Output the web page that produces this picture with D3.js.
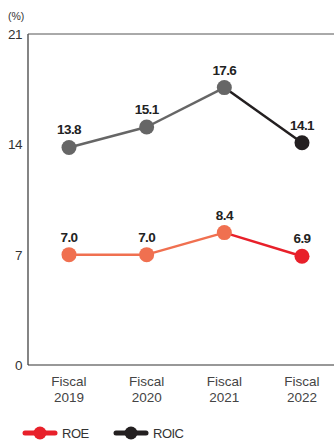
<!DOCTYPE html>
<html>
<head>
<meta charset="utf-8">
<script src="https://cdn.jsdelivr.net/npm/d3@7"></script>
<style>
  html, body { margin: 0; padding: 0; background: #fff; }
  svg { display: block; font-family: "Liberation Sans", Arial, sans-serif; }
</style>
</head>
<body>
<svg id="chart" width="334" height="441"></svg>
<script>
// Fiscal years and ratios (%)
const years = ["2019", "2020", "2021", "2022"];
const roe = [7.0, 7.0, 8.4, 6.9];
const roic = [13.8, 15.1, 17.6, 14.1];
const yTicks = [0, 7, 14, 21];

const svg = d3.select("#chart");
const plotLeft = 28, plotRight = 334, plotTop = 34, plotBottom = 365;

const x = d3.scalePoint().domain(years).range([69, 302]);
const y = d3.scaleLinear().domain([0, 21]).range([plotBottom, plotTop]);

// frame: left axis, top and bottom rules
svg.append("line").attr("x1", plotLeft).attr("x2", plotLeft).attr("y1", plotTop).attr("y2", plotBottom)
  .attr("stroke", "#333").attr("stroke-width", 1.2);
svg.append("line").attr("x1", plotLeft).attr("x2", plotRight).attr("y1", plotTop).attr("y2", plotTop)
  .attr("stroke", "#555").attr("stroke-width", 1);
svg.append("line").attr("x1", plotLeft).attr("x2", plotRight).attr("y1", plotBottom).attr("y2", plotBottom)
  .attr("stroke", "#333").attr("stroke-width", 1.2);

// y tick labels
svg.selectAll(".ytick").data(yTicks).join("text")
  .attr("x", 22).attr("y", d => y(d)).attr("dy", "0.36em")
  .attr("text-anchor", "end").attr("font-size", 13.5).attr("fill", "#333")
  .style("letter-spacing", "-0.5px")
  .text(d => d);

svg.append("text").attr("x", 8).attr("y", 20).attr("font-size", 10.5).attr("fill", "#333")
  .text("(%)");

// x labels
const xl = svg.selectAll(".xlab").data(years).join("text")
  .attr("x", d => x(d)).attr("text-anchor", "middle").attr("font-size", 13.5).attr("fill", "#444");
xl.append("tspan").attr("x", d => x(d)).attr("y", 386).text("Fiscal");
xl.append("tspan").attr("x", d => x(d)).attr("y", 402).text(d => d);

function drawSeries(values, baseColor, lastColor) {
  const pts = values.map((v, i) => ({ yr: years[i], v }));
  for (let i = 0; i < pts.length - 1; i++) {
    const c = i === pts.length - 2 ? lastColor : baseColor;
    svg.append("line")
      .attr("x1", x(pts[i].yr)).attr("y1", y(pts[i].v))
      .attr("x2", x(pts[i + 1].yr)).attr("y2", y(pts[i + 1].v))
      .attr("stroke", c).attr("stroke-width", 2.5);
  }
  svg.selectAll(null).data(pts).join("circle")
    .attr("cx", d => x(d.yr)).attr("cy", d => y(d.v)).attr("r", 7.5)
    .attr("fill", (d, i) => i === pts.length - 1 ? lastColor : baseColor);
  svg.selectAll(null).data(pts).join("text")
    .attr("x", d => x(d.yr)).attr("y", d => y(d.v) - 13)
    .attr("text-anchor", "middle").attr("font-size", 13.5).attr("font-weight", "bold")
    .attr("fill", "#222").style("letter-spacing", "-0.6px")
    .text(d => d.v.toFixed(1));
}

drawSeries(roic, "#666666", "#231f20");
drawSeries(roe, "#f07050", "#e8202a");

// legend
const legend = [
  { name: "ROE", color: "#e8202a", x0: 25 },
  { name: "ROIC", color: "#231f20", x0: 116 }
];
legend.forEach(l => {
  svg.append("line").attr("x1", l.x0).attr("x2", l.x0 + 30).attr("y1", 433).attr("y2", 433)
    .attr("stroke", l.color).attr("stroke-width", 5).attr("stroke-linecap", "round");
  svg.append("circle").attr("cx", l.x0 + 15).attr("cy", 433).attr("r", 6.5).attr("fill", l.color);
  svg.append("text").attr("x", l.x0 + 37).attr("y", 433).attr("dy", "0.36em")
    .attr("font-size", 13).attr("fill", "#333").style("letter-spacing", "-0.5px").text(l.name);
});
</script>
</body>
</html>
